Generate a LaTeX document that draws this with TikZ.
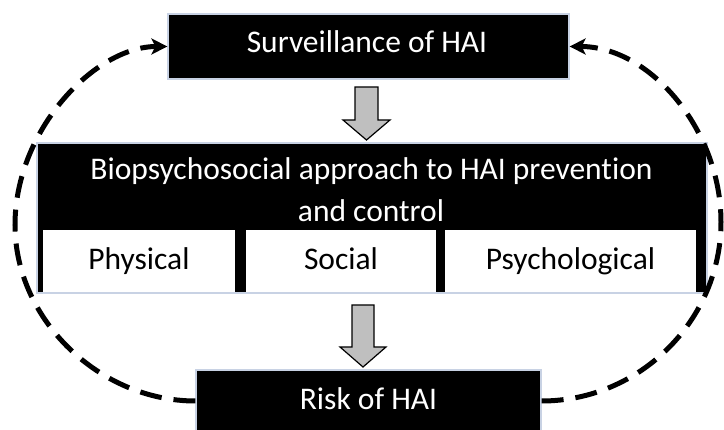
\documentclass[tikz,border=0pt]{standalone}
\usepackage{fontspec}
\setmainfont{Carlito}[Ligatures=NoCommon]
\usetikzlibrary{arrows.meta}
\definecolor{glow}{RGB}{200,210,228}
\definecolor{arrowgray}{RGB}{191,191,191}
\tikzset{
  blackbox/.style={rectangle, fill=black, draw=glow, line width=1.2pt, inner sep=0pt},
  cellbox/.style={rectangle, fill=white, draw=none, inner sep=0pt, minimum height=62pt},
  boxtext/.style={anchor=base, inner sep=0pt, font=\fontsize{31.5}{38}\selectfont},
  whitetext/.style={boxtext, text=white},
  blocktip/.style={fill=arrowgray, draw=black, line width=1.2pt, line join=miter},
  loop/.style={line width=5pt, dash pattern=on 22pt off 12pt, -{Stealth[length=16pt,width=16pt,inset=4pt]}}
}
\begin{document}
\begin{tikzpicture}[x=1pt,y=-1pt]
\useasboundingbox (0,0) rectangle (724,430);
% boxes
\node[blackbox, minimum width=401pt, minimum height=65pt] (top) at (368.5,46.5) {};
\node[blackbox, minimum width=670pt, minimum height=150pt] (mid) at (372,218) {};
\node[cellbox, minimum width=192pt] (phys) at (139,261) {};
\node[cellbox, minimum width=190pt] (soc) at (341,261) {};
\node[cellbox, minimum width=251pt] (psy) at (570.5,261) {};
\node[blackbox, minimum width=345pt, minimum height=62pt] (risk) at (368.5,401) {};
% texts
\node[whitetext] (ttop) at (367,53) {Surveillance of HAI};
\node[whitetext] (tmid1) at (371.5,180) {Biopsychosocial approach to HAI prevention};
\node[whitetext] (tmid2) at (371,222) {and control};
\node[boxtext] (tphys) at (139,270) {Physical};
\node[boxtext] (tsoc) at (341,270) {Social};
\node[boxtext] (tpsy) at (570.5,270) {Psychological};
\node[whitetext] (trisk) at (368.5,410) {Risk of HAI};
% block arrows
\draw[blocktip] (355,87) -- (378,87) -- (378,120) -- (390,120) -- (366.5,140) -- (343,120) -- (355,120) -- cycle;
\draw[blocktip] (352,305) -- (374,305) -- (374,347) -- (386,347) -- (363,367) -- (340,347) -- (352,347) -- cycle;
% dashed loops
\draw[loop] (risk.west) .. controls (100,401) and (15,320) .. (15,225) .. controls (15,130) and (95,46.5) .. (top.west);
\draw[loop] (risk.east) .. controls (640,401) and (721,320) .. (721,222) .. controls (721,130) and (650,46.5) .. (top.east);
\end{tikzpicture}
\end{document}
